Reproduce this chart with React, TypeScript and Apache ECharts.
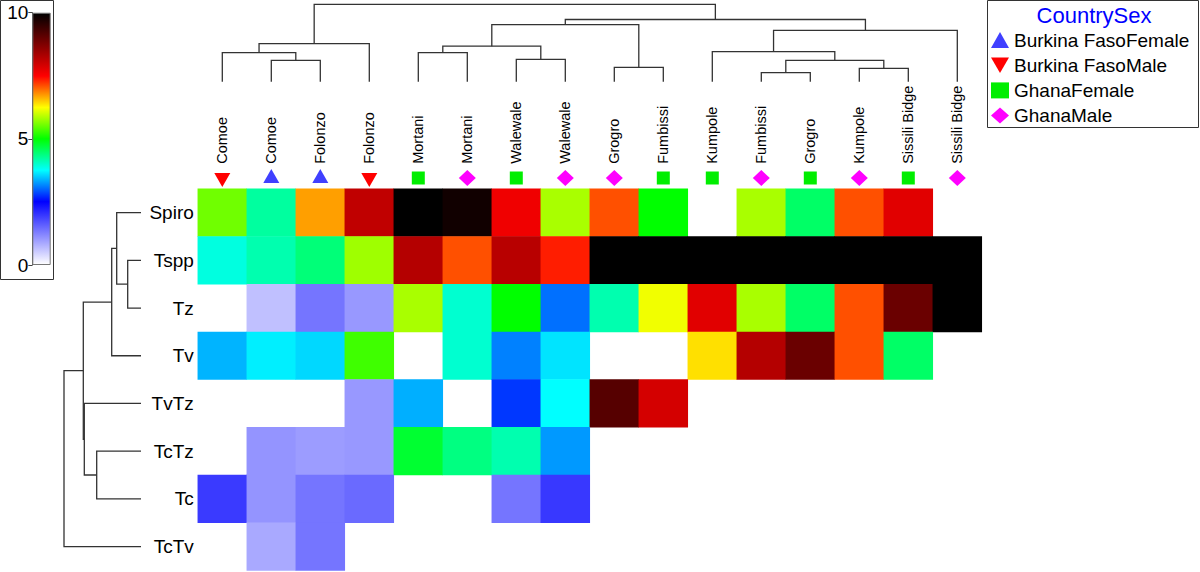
import React, { useEffect, useRef } from "react";
import * as echarts from "echarts";

const FONT = "'Liberation Sans', Arial, sans-serif";

const colLabels = ["Comoe", "Comoe", "Folonzo", "Folonzo", "Mortani", "Mortani", "Walewale", "Walewale", "Grogro", "Fumbissi", "Kumpole", "Fumbissi", "Grogro", "Kumpole", "Sissili Bidge", "Sissili Bidge"];
const colGroups = ["Burkina FasoMale", "Burkina FasoFemale", "Burkina FasoFemale", "Burkina FasoMale", "GhanaFemale", "GhanaMale", "GhanaFemale", "GhanaMale", "GhanaMale", "GhanaFemale", "GhanaFemale", "GhanaMale", "GhanaFemale", "GhanaMale", "GhanaFemale", "GhanaMale"];
const rowLabels = ["Spiro", "Tspp", "Tz", "Tv", "TvTz", "TcTz", "Tc", "TcTv"];

const N = null;
const spiro = [5.55, 4.22, 6.72, 8.12, 10, 9.84, 7.65, 5.83, 7.11, 5.0, N, 5.83, 4.5, 7.11, 7.8, N];
const tspp = [3.9, 4.14, 4.41, 5.78, 8.24, 7.11, 8.2, 7.36, 10, 10, 10, 10, 10, 10, 10, 10];
const tz = [N, 0.62, 1.36, 1.01, 5.83, 3.98, 5.0, 3.05, 4.14, 6.18, 7.8, 5.83, 4.5, 7.11, 8.96, 10];
const tv = [3.38, 3.67, 3.56, 5.31, N, 3.98, 3.13, 3.62, N, N, 6.4, 8.24, 8.96, 7.11, 4.5, N];
const tvtz = [N, N, N, 1.01, 3.36, N, 2.77, 3.75, 9.16, 7.92, N, N, N, N, N, N];
const tctz = [N, 1.05, 0.97, 1.01, 4.76, 4.37, 4.14, 3.25, N, N, N, N, N, N, N, N];
const tc = [1.93, 1.05, 1.36, 1.46, N, N, 1.36, 1.95, N, N, N, N, N, N, N, N];
const tctv = [N, 0.85, 1.36, N, N, N, N, N, N, N, N, N, N, N, N, N];
const rowValues = [spiro, tspp, tz, tv, tvtz, tctz, tc, tctv];

const palette = ["#ffffff", "#8080ff", "#0000ff", "#0080ff", "#00ffff", "#00ff80", "#00ff00", "#80ff00", "#ffff00", "#ff8000", "#ff0000", "#800000", "#000000"];
const paletteStops = [0, 1.25, 2.5, 3.125, 3.75, 4.375, 5, 5.625, 6.25, 6.875, 7.5, 8.75, 10];
const colorTicks = [0, 5, 10];

const groupNames = ["Burkina FasoFemale", "Burkina FasoMale", "GhanaFemale", "GhanaMale"];
const groupColors = ["#4040ff", "#ff0000", "#00ee00", "#ff00ff"];
const groupSymbols = ["triangle", "path://M0,0 L10,0 L5,8.66 Z", "rect", "diamond"];

// merges: [a, b, height]; a/b >= 0 leaf index, negative = -(mergeIndex+1)
const colMerges = [
  [1, 2, 21.4],
  [0, -1, 29],
  [-2, 3, 38],
  [4, 5, 29],
  [6, 7, 22.4],
  [-4, -5, 35.5],
  [8, 9, 14.4],
  [-6, -7, 57],
  [11, 12, 9],
  [13, 14, 13.4],
  [-9, -10, 21.4],
  [10, -11, 30],
  [-12, 15, 51.4],
  [-8, -13, 62.2],
  [-3, -14, 77.4],
];
const rowMerges = [
  [1, 2, 13.3],
  [0, -1, 24.3],
  [-2, 3, 29.3],
  [5, 6, 44.3],
  [4, -4, 56.7],
  [-3, -5, 57.7],
  [-6, 7, 77],
];

function buildDendro(merges: number[][]) {
  const pos: number[] = [];
  const hts: number[] = [];
  const segs: number[][] = [];
  const get = (k: number) => (k >= 0 ? [k, 0] : [pos[-k - 1], hts[-k - 1]]);
  merges.forEach(([a, b, h], i) => {
    const [p1, h1] = get(a);
    const [p2, h2] = get(b);
    pos[i] = (p1 + p2) / 2;
    hts[i] = h;
    segs.push([p1, h1, p2, h2, h]);
  });
  return segs;
}

const HM = { left: 197.8, top: 188.8, width: 784, height: 381.6 };

export default function App() {
  const ref = useRef<HTMLDivElement>(null);
  useEffect(() => {
    if (!ref.current) return;
    const chart = echarts.init(ref.current, null, { renderer: "svg" });

    const heatData: any[] = [];
    rowValues.forEach((row, r) =>
      row.forEach((v, c) => {
        if (v !== null) heatData.push([c, r, v]);
      })
    );

    const colSegs = buildDendro(colMerges);
    const rowSegs = buildDendro(rowMerges);
    const maxStop = paletteStops[paletteStops.length - 1];
    const gradStops = palette.map((c, i) => ({ offset: paletteStops[i] / maxStop, color: c }));
    const vmColors: string[] = [];
    const steps = 41;
    const toRGB = (h: string) => [1, 3, 5].map((i) => parseInt(h.slice(i, i + 2), 16));
    for (let s = 0; s < steps; s++) {
      const v = (s / (steps - 1)) * maxStop;
      let k = 0;
      while (k < paletteStops.length - 2 && v > paletteStops[k + 1]) k++;
      const t = (v - paletteStops[k]) / (paletteStops[k + 1] - paletteStops[k]);
      const a = toRGB(palette[k]);
      const b = toRGB(palette[k + 1]);
      const m = a.map((x, j) => Math.round(x + (b[j] - x) * t));
      vmColors.push(`rgb(${m[0]},${m[1]},${m[2]})`);
    }

    const lineStyle = { stroke: "#333", lineWidth: 1.3, fill: null };

    const scatterSeries = groupNames.map((g, gi) => ({
      name: g,
      type: "scatter",
      xAxisIndex: 1,
      yAxisIndex: 1,
      symbol: groupSymbols[gi],
      symbolSize: gi < 2 ? [16, 14] : gi === 2 ? [13, 13] : [17, 16],
      symbolOffset: gi === 0 ? [0, -2] : gi === 1 ? [0, 2] : [0, 0],
      itemStyle: { color: groupColors[gi], opacity: 1 },
      silent: true,
      clip: false,
      data: colGroups.map((cg, i) => (cg === g ? [i, 0] : null)).filter((d) => d !== null),
    }));

    chart.setOption({
      animation: false,
      textStyle: { fontFamily: FONT },
      grid: [
        { ...HM },
        { left: HM.left, width: HM.width, top: 168, height: 20 },
        { left: HM.left, width: HM.width, top: 4.3, height: 77.4 },
        { left: 64, width: 77, top: HM.top, height: HM.height },
        { left: 32.3, top: 12.7, width: 18.4, height: 252.3 },
      ],
      xAxis: [
        {
          gridIndex: 0,
          type: "category",
          data: colLabels,
          position: "top",
          axisLine: { show: false },
          axisTick: { show: false },
          axisLabel: { rotate: -90, margin: 25, fontSize: 14.5, color: "#000", interval: 0, fontFamily: FONT },
        },
        { gridIndex: 1, type: "category", data: colLabels, show: false },
        { gridIndex: 2, type: "value", min: -0.5, max: 15.5, show: false },
        { gridIndex: 3, type: "value", min: 0, max: 77, inverse: true, show: false },
        { gridIndex: 4, type: "category", data: [""], show: false },
      ],
      yAxis: [
        {
          gridIndex: 0,
          type: "category",
          data: rowLabels,
          inverse: true,
          axisLine: { show: false },
          axisTick: { show: false },
          axisLabel: { fontSize: 19, color: "#000", margin: 4, fontFamily: FONT },
        },
        { gridIndex: 1, type: "value", min: -1, max: 1, show: false },
        { gridIndex: 2, type: "value", min: 0, max: 77.4, show: false },
        { gridIndex: 3, type: "value", min: -0.5, max: 7.5, inverse: true, show: false },
        {
          gridIndex: 4,
          type: "value",
          min: 0,
          max: 10,
          interval: 5,
          axisLine: { show: true, lineStyle: { color: "#444", width: 1 } },
          axisTick: { show: true, length: 4, lineStyle: { color: "#444" } },
          axisLabel: { fontSize: 19, color: "#000", margin: 4, fontFamily: FONT, formatter: (v: number) => (colorTicks.includes(v) ? String(v) : "") },
          splitLine: { show: false },
        },
      ],
      visualMap: {
        show: false,
        type: "continuous",
        min: 0,
        max: maxStop,
        seriesIndex: 0,
        inRange: { color: vmColors },
      },
      legend: {
        orient: "vertical",
        left: 991,
        top: 30.5,
        padding: 0,
        itemWidth: 18,
        itemHeight: 16,
        itemGap: 6.2,
        selectedMode: false,
        data: groupNames,
        textStyle: { fontSize: 19, color: "#000", fontFamily: FONT },
      },
      graphic: [
        { type: "rect", shape: { x: 0.5, y: 0.5, width: 53, height: 279 }, style: { fill: "none", stroke: "#333", lineWidth: 1 }, silent: true },
        { type: "rect", shape: { x: 987.5, y: 0.5, width: 211, height: 127 }, style: { fill: "none", stroke: "#333", lineWidth: 1 }, silent: true },
        { type: "text", x: 1094, y: 15, style: { text: "CountrySex", fill: "#0000ff", fontSize: 22, align: "center", verticalAlign: "middle", fontFamily: FONT }, silent: true },
      ],
      series: [
        {
          type: "heatmap",
          xAxisIndex: 0,
          yAxisIndex: 0,
          data: heatData,
          emphasis: { disabled: true },
          silent: true,
        },
        ...scatterSeries,
        {
          type: "custom",
          xAxisIndex: 2,
          yAxisIndex: 2,
          silent: true,
          data: colSegs,
          renderItem: (_p: any, api: any) => {
            const a = api.coord([api.value(0), api.value(1)]);
            const b = api.coord([api.value(0), api.value(4)]);
            const c = api.coord([api.value(2), api.value(4)]);
            const d = api.coord([api.value(2), api.value(3)]);
            return { type: "polyline", shape: { points: [a, b, c, d] }, style: lineStyle };
          },
        },
        {
          type: "custom",
          xAxisIndex: 3,
          yAxisIndex: 3,
          silent: true,
          data: rowSegs,
          renderItem: (_p: any, api: any) => {
            const a = api.coord([api.value(1), api.value(0)]);
            const b = api.coord([api.value(4), api.value(0)]);
            const c = api.coord([api.value(4), api.value(2)]);
            const d = api.coord([api.value(3), api.value(2)]);
            return { type: "polyline", shape: { points: [a, b, c, d] }, style: lineStyle };
          },
        },
        {
          type: "bar",
          xAxisIndex: 4,
          yAxisIndex: 4,
          silent: true,
          barWidth: "100%",
          data: [maxStop],
          itemStyle: {
            color: new echarts.graphic.LinearGradient(0, 1, 0, 0, gradStops),
            borderColor: "#777",
            borderWidth: 1,
          },
        },
      ],
    });
    return () => chart.dispose();
  }, []);
  return <div ref={ref} style={{ position: "absolute", left: 0, top: 0, width: 1200, height: 572 }} />;
}
